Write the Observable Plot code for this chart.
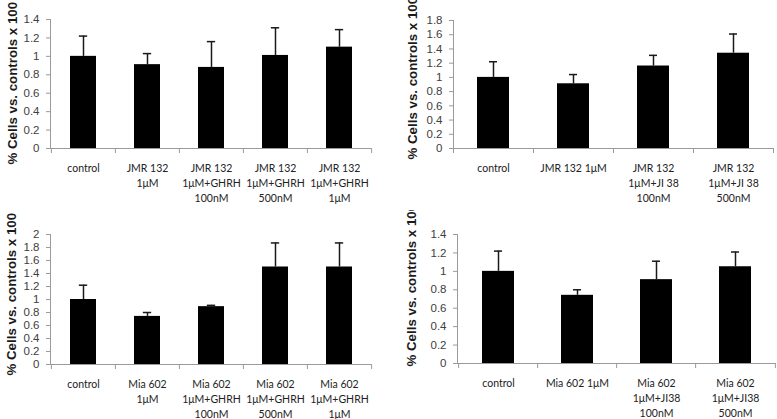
<!DOCTYPE html>
<html><head><meta charset="utf-8">
<script src="https://cdn.jsdelivr.net/npm/d3@7"></script>
<script src="https://cdn.jsdelivr.net/npm/@observablehq/plot@0.6"></script>
<style>
body{margin:0;background:#fff;}
#wrap{position:relative;width:777px;height:419px;overflow:hidden;background:#fff;}
.panel{position:absolute;}
.panel svg{display:block;overflow:hidden;}
</style></head><body><div id="wrap"></div>
<script>
const yTitle = "% Cells vs. controls x 100";

// Panel A (top-left)
const aCategories = ["control", "JMR 132\n1μM", "JMR 132\n1μM+GHRH\n100nM", "JMR 132\n1μM+GHRH\n500nM", "JMR 132\n1μM+GHRH\n1μM"];
const aValues = [1.00, 0.91, 0.88, 1.01, 1.10];
const aErrors = [0.22, 0.12, 0.28, 0.30, 0.19];
const aTicks = [0, 0.2, 0.4, 0.6, 0.8, 1, 1.2, 1.4];

// Panel B (top-right)
const bCategories = ["control", "JMR 132 1μM", "JMR 132\n1μM+JI 38\n100nM", "JMR 132\n1μM+JI 38\n500nM"];
const bValues = [1.00, 0.91, 1.16, 1.34];
const bErrors = [0.22, 0.13, 0.15, 0.27];
const bTicks = [0, 0.2, 0.4, 0.6, 0.8, 1, 1.2, 1.4, 1.6, 1.8];

// Panel C (bottom-left)
const cCategories = ["control", "Mia 602\n1μM", "Mia 602\n1μM+GHRH\n100nM", "Mia 602\n1μM+GHRH\n500nM", "Mia 602\n1μM+GHRH\n1μM"];
const cValues = [1.00, 0.74, 0.89, 1.50, 1.50];
const cErrors = [0.22, 0.06, 0.02, 0.37, 0.37];
const cTicks = [0, 0.2, 0.4, 0.6, 0.8, 1, 1.2, 1.4, 1.6, 1.8, 2];

// Panel D (bottom-right)
const dCategories = ["control", "Mia 602 1μM", "Mia 602\n1μM+JI38\n100nM", "Mia 602\n1μM+JI38\n500nM"];
const dValues = [1.00, 0.74, 0.91, 1.05];
const dErrors = [0.22, 0.06, 0.20, 0.16];
const dTicks = [0, 0.2, 0.4, 0.6, 0.8, 1, 1.2, 1.4];

const gray = "#9a9a9a";
const labelFont = "Lato, 'Open Sans', sans-serif";
const labelSize = 10.5;

const layouts = [
  {cats: aCategories, vals: aValues, errs: aErrors, ticks: aTicks, left: 0, top: 0, width: 390, height: 210, mL: 50, mR: 19, mT: 19, mB: 62, tX: 16.5, tY: 164},
  {cats: bCategories, vals: bValues, errs: bErrors, ticks: bTicks, left: 390, top: 0, width: 387, height: 210, mL: 63, mR: 4, mT: 20, mB: 62, tX: 26.5, tY: 159},
  {cats: cCategories, vals: cValues, errs: cErrors, ticks: cTicks, left: 0, top: 210, width: 390, height: 209, mL: 50, mR: 19, mT: 24, mB: 55, tX: 15.5, tY: 165},
  {cats: dCategories, vals: dValues, errs: dErrors, ticks: dTicks, left: 390, top: 210, width: 387, height: 209, mL: 67, mR: 1, mT: 24, mB: 56, tX: 25, tY: 156}
];

const wrap = document.getElementById("wrap");
for (const L of layouts) {
  const n = L.cats.length;
  const step = (L.width - L.mL - L.mR) / n;
  const band = step * 0.4;
  const capInset = Math.max(0, (band - 8) / 2);
  const data = L.cats.map((c, i) => ({cat: c, value: L.vals[i], upper: L.vals[i] + L.errs[i]}));
  const yMax = L.ticks[L.ticks.length - 1];
  const chart = Plot.plot({
    width: L.width,
    height: L.height,
    marginLeft: L.mL, marginRight: L.mR, marginTop: L.mT, marginBottom: L.mB,
    style: {background: "#fff", fontFamily: "'Liberation Sans', Arial, sans-serif", overflow: "hidden"},
    x: {domain: L.cats, paddingInner: 0.6, paddingOuter: 0.3},
    y: {domain: [0, yMax]},
    marks: [
      Plot.ruleX(data, {x: "cat", y1: "value", y2: "upper", stroke: "#1a1a1a", strokeWidth: 1.5}),
      Plot.tickY(data, {x: "cat", y: "upper", stroke: "#1a1a1a", strokeWidth: 1.5, insetLeft: capInset, insetRight: capInset}),
      Plot.barY(data, {x: "cat", y: "value", fill: "#000"}),
      Plot.ruleY([0], {stroke: gray}),
      Plot.frame({anchor: "left", stroke: gray}),
      Plot.axisX({ticks: L.cats, tickSize: 5, fill: "none", stroke: gray, dx: -step / 2, label: null}),
      Plot.axisX({ticks: [L.cats[n - 1]], tickSize: 5, fill: "none", stroke: gray, dx: step / 2, label: null}),
      Plot.axisY({ticks: L.ticks, tickSize: 4, tickPadding: 7, tickFormat: d => String(d), stroke: gray, fill: "#404040", fontSize: 11.5, fontFamily: "'Liberation Sans', Arial, sans-serif", label: null}),
      Plot.text(data, {x: "cat", text: "cat", frameAnchor: "bottom", lineAnchor: "top", dy: 12.7, fontFamily: labelFont, fontSize: labelSize, lineHeight: 15 / labelSize, fill: "#222"}),
      Plot.text([yTitle], {text: d => d, frameAnchor: "top-left", rotate: -90, textAnchor: "start", lineAnchor: "bottom", dx: L.tX - L.mL, dy: L.tY - L.mT, fontWeight: "bold", fontSize: 13.3, fontFamily: "'Liberation Sans', Arial, sans-serif", fill: "#1a1a1a"})
    ]
  });
  const div = document.createElement("div");
  div.className = "panel";
  div.style.left = L.left + "px";
  div.style.top = L.top + "px";
  div.appendChild(chart);
  wrap.appendChild(div);
}
</script>
</body></html>
